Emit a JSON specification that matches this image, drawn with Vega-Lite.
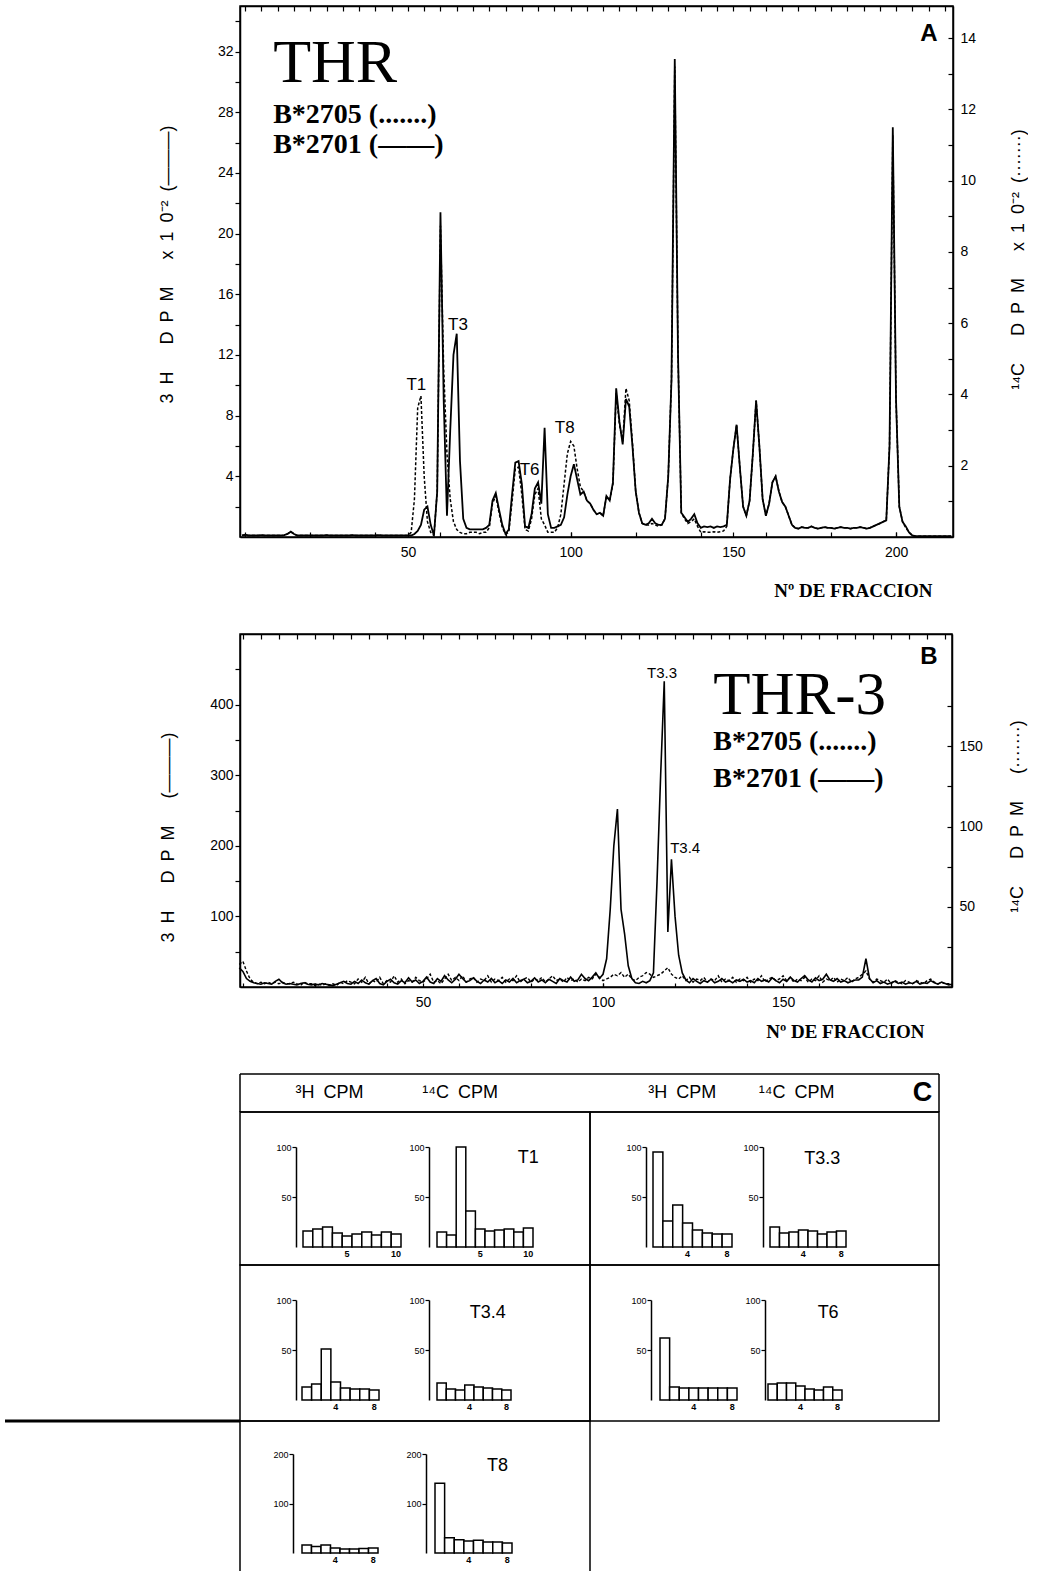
{
"$schema": "https://vega.github.io/schema/vega-lite/v6.json",
"background": "white",
"padding": {"left": 2, "top": 4, "right": 0, "bottom": 0},
"spacing": 31,
"config": {
 "view": {"stroke": "black", "strokeWidth": 1.5},
 "font": "Liberation Sans",
 "axis": {"grid": false, "domainColor": "black", "domainWidth": 1.5, "tickColor": "black", "tickWidth": 1.2, "labelColor": "black", "titleColor": "black", "labelFont": "Liberation Sans", "titleFont": "Liberation Sans", "titleFontWeight": "normal", "labelOverlap": false, "labelFlush": false}
},
"datasets": {
"A": [
{"f":-1,"h":0.1,"c":0.04},{"f":0,"h":0.15,"c":0.04},{"f":1,"h":0.1,"c":0.04},{"f":2,"h":0.1,"c":0.04},{"f":3,"h":0.1,"c":0.04},{"f":4,"h":0.1,"c":0.04},{"f":5,"h":0.12,"c":0.05},{"f":6,"h":0.1,"c":0.04},{"f":7,"h":0.1,"c":0.04},{"f":8,"h":0.1,"c":0.04},{"f":9,"h":0.1,"c":0.04},{"f":10,"h":0.1,"c":0.04},{"f":11,"h":0.1,"c":0.04},{"f":12,"h":0.12,"c":0.05},{"f":13,"h":0.2,"c":0.09},{"f":14,"h":0.35,"c":0.15},{"f":15,"h":0.2,"c":0.09},{"f":16,"h":0.1,"c":0.04},{"f":17,"h":0.1,"c":0.04},{"f":18,"h":0.1,"c":0.04},{"f":19,"h":0.1,"c":0.04},{"f":20,"h":0.1,"c":0.04},{"f":21,"h":0.1,"c":0.04},{"f":22,"h":0.1,"c":0.04},{"f":23,"h":0.1,"c":0.04},{"f":24,"h":0.1,"c":0.04},{"f":25,"h":0.12,"c":0.05},{"f":26,"h":0.1,"c":0.04},{"f":27,"h":0.1,"c":0.04},{"f":28,"h":0.1,"c":0.04},{"f":29,"h":0.1,"c":0.04},{"f":30,"h":0.1,"c":0.04},{"f":31,"h":0.1,"c":0.04},{"f":32,"h":0.1,"c":0.04},{"f":33,"h":0.12,"c":0.05},{"f":34,"h":0.1,"c":0.04},{"f":35,"h":0.1,"c":0.04},{"f":36,"h":0.1,"c":0.04},{"f":37,"h":0.1,"c":0.04},{"f":38,"h":0.1,"c":0.04},{"f":39,"h":0.1,"c":0.04},{"f":40,"h":0.1,"c":0.04},{"f":41,"h":0.12,"c":0.05},{"f":42,"h":0.1,"c":0.04},{"f":43,"h":0.1,"c":0.04},{"f":44,"h":0.1,"c":0.04},{"f":45,"h":0.1,"c":0.04},{"f":46,"h":0.1,"c":0.04},{"f":47,"h":0.1,"c":0.04},{"f":48,"h":0.1,"c":0.04},{"f":49,"h":0.1,"c":0.04},
{"f":50,"h":0.1,"c":0.04},{"f":51,"h":0.1,"c":0.13},{"f":52,"h":0.2,"c":1.06},{"f":53,"h":0.4,"c":3.62},{"f":54,"h":0.8,"c":3.96},{"f":55,"h":1.8,"c":1.7},{"f":56,"h":2.0,"c":0.43},{"f":57,"h":0.8,"c":0.13},{"f":58,"h":0.1,"c":0.04},{"f":59,"h":3,"c":1.28},{"f":60,"h":21.4,"c":8.73},{"f":61,"h":9,"c":4.68},{"f":62,"h":1.4,"c":2.34},{"f":63,"h":7,"c":1.06},{"f":64,"h":12,"c":0.43},{"f":65,"h":13.4,"c":0.21},{"f":66,"h":5,"c":0.13},{"f":67,"h":1.2,"c":0.09},{"f":68,"h":0.6,"c":0.09},{"f":69,"h":0.5,"c":0.13},{"f":70,"h":0.5,"c":0.13},{"f":71,"h":0.5,"c":0.13},{"f":72,"h":0.5,"c":0.09},{"f":73,"h":0.5,"c":0.13},{"f":74,"h":0.6,"c":0.13},{"f":75,"h":0.8,"c":0.26},{"f":76,"h":2.4,"c":0.94},{"f":77,"h":2.9,"c":1.15},{"f":78,"h":1.8,"c":0.68},{"f":79,"h":0.8,"c":0.26},{"f":80,"h":0.2,"c":0.09},{"f":81,"h":0.5,"c":0.13},{"f":82,"h":2.8,"c":0.98},{"f":83,"h":4.9,"c":1.92},{"f":84,"h":5.0,"c":1.96},{"f":85,"h":3.5,"c":1.19},{"f":86,"h":0.7,"c":0.21},{"f":87,"h":0.6,"c":0.17},{"f":88,"h":1.5,"c":0.51},{"f":89,"h":3.2,"c":1.19},{"f":90,"h":3.6,"c":1.36},{"f":91,"h":2.2,"c":0.51},{"f":92,"h":7.2,"c":0.34},{"f":93,"h":1.5,"c":0.13},{"f":94,"h":0.6,"c":0.13},{"f":95,"h":0.6,"c":0.13},{"f":96,"h":0.7,"c":0.26},{"f":97,"h":0.8,"c":0.64},{"f":98,"h":1.3,"c":1.49},{"f":99,"h":2.8,"c":2.34},
{"f":100,"h":4.0,"c":2.68},{"f":101,"h":4.8,"c":2.55},{"f":102,"h":3.8,"c":1.92},{"f":103,"h":2.8,"c":1.4},{"f":104,"h":3.0,"c":1.28},{"f":105,"h":2.4,"c":1.02},{"f":106,"h":2.2,"c":0.94},{"f":107,"h":1.8,"c":0.77},{"f":108,"h":1.5,"c":0.64},{"f":109,"h":1.6,"c":0.68},{"f":110,"h":1.4,"c":0.6},{"f":111,"h":2.7,"c":1.15},{"f":112,"h":2.4,"c":1.02},{"f":113,"h":3.6,"c":1.49},{"f":114,"h":9.8,"c":4.04},{"f":115,"h":7.6,"c":3.15},{"f":116,"h":6.1,"c":2.68},{"f":117,"h":9.1,"c":4.17},{"f":118,"h":8.6,"c":3.83},{"f":119,"h":6.0,"c":2.64},{"f":120,"h":3.0,"c":1.28},{"f":121,"h":1.6,"c":0.68},{"f":122,"h":0.9,"c":0.38},{"f":123,"h":0.8,"c":0.34},{"f":124,"h":0.9,"c":0.34},{"f":125,"h":1.2,"c":0.38},{"f":126,"h":0.9,"c":0.34},{"f":127,"h":0.8,"c":0.3},{"f":128,"h":0.8,"c":0.34},{"f":129,"h":1.2,"c":0.51},{"f":130,"h":4,"c":1.7},{"f":131,"h":10.4,"c":4.43},{"f":132,"h":31.5,"c":13.2},{"f":133,"h":12,"c":5.11},{"f":134,"h":1.6,"c":0.68},{"f":135,"h":1.3,"c":0.51},{"f":136,"h":1.0,"c":0.38},{"f":137,"h":1.2,"c":0.43},{"f":138,"h":1.5,"c":0.51},{"f":139,"h":0.9,"c":0.3},{"f":140,"h":0.6,"c":0.13},{"f":141,"h":0.7,"c":0.15},{"f":142,"h":0.65,"c":0.13},{"f":143,"h":0.7,"c":0.13},{"f":144,"h":0.6,"c":0.15},{"f":145,"h":0.7,"c":0.13},{"f":146,"h":0.65,"c":0.15},{"f":147,"h":0.7,"c":0.17},{"f":148,"h":0.8,"c":0.3},{"f":149,"h":3.8,"c":1.62},
{"f":150,"h":5.8,"c":2.47},{"f":151,"h":7.4,"c":3.15},{"f":152,"h":4.6,"c":1.96},{"f":153,"h":2.0,"c":0.85},{"f":154,"h":1.4,"c":0.6},{"f":155,"h":2.4,"c":1.02},{"f":156,"h":5.5,"c":2.34},{"f":157,"h":9.0,"c":3.83},{"f":158,"h":6.0,"c":2.55},{"f":159,"h":2.5,"c":1.06},{"f":160,"h":1.4,"c":0.6},{"f":161,"h":2.2,"c":0.94},{"f":162,"h":3.6,"c":1.53},{"f":163,"h":4.0,"c":1.7},{"f":164,"h":3.0,"c":1.28},{"f":165,"h":2.3,"c":0.98},{"f":166,"h":2.0,"c":0.85},{"f":167,"h":1.4,"c":0.6},{"f":168,"h":0.8,"c":0.34},{"f":169,"h":0.6,"c":0.26},{"f":170,"h":0.55,"c":0.23},{"f":171,"h":0.65,"c":0.28},{"f":172,"h":0.6,"c":0.26},{"f":173,"h":0.6,"c":0.26},{"f":174,"h":0.7,"c":0.3},{"f":175,"h":0.6,"c":0.26},{"f":176,"h":0.55,"c":0.23},{"f":177,"h":0.6,"c":0.26},{"f":178,"h":0.65,"c":0.28},{"f":179,"h":0.6,"c":0.26},{"f":180,"h":0.6,"c":0.26},{"f":181,"h":0.55,"c":0.23},{"f":182,"h":0.6,"c":0.26},{"f":183,"h":0.65,"c":0.28},{"f":184,"h":0.6,"c":0.26},{"f":185,"h":0.6,"c":0.26},{"f":186,"h":0.55,"c":0.23},{"f":187,"h":0.6,"c":0.26},{"f":188,"h":0.6,"c":0.26},{"f":189,"h":0.65,"c":0.28},{"f":190,"h":0.6,"c":0.26},{"f":191,"h":0.55,"c":0.23},{"f":192,"h":0.6,"c":0.26},{"f":193,"h":0.7,"c":0.3},{"f":194,"h":0.8,"c":0.34},{"f":195,"h":0.9,"c":0.38},{"f":196,"h":1.0,"c":0.43},{"f":197,"h":1.1,"c":0.47},{"f":198,"h":6,"c":2.55},{"f":199,"h":27,"c":11.28},
{"f":200,"h":9,"c":3.83},{"f":201,"h":2,"c":0.85},{"f":202,"h":1.0,"c":0.43},{"f":203,"h":0.7,"c":0.26},{"f":204,"h":0.3,"c":0.13},{"f":205,"h":0.1,"c":0.04},{"f":206,"h":0.05,"c":0.02},{"f":207,"h":0.05,"c":0.02},{"f":208,"h":0.05,"c":0.02},{"f":209,"h":0.05,"c":0.02},{"f":210,"h":0.05,"c":0.02},{"f":211,"h":0.05,"c":0.02},{"f":212,"h":0.05,"c":0.02},{"f":213,"h":0.05,"c":0.02},{"f":214,"h":0.05,"c":0.02},{"f":215,"h":0.05,"c":0.02},{"f":216,"h":0.05,"c":0.02},{"f":217,"h":0.05,"c":0.02}
],
"B": [
{"f":-1,"h":27,"c":14},{"f":0,"h":22,"c":16},{"f":1,"h":12,"c":10},{"f":2,"h":8,"c":5},{"f":3,"h":6,"c":3},{"f":4,"h":5,"c":2},{"f":5,"h":4,"c":3},{"f":6,"h":6,"c":2},{"f":7,"h":5,"c":3},{"f":8,"h":4,"c":2},{"f":9,"h":8,"c":3},{"f":10,"h":11,"c":2},{"f":11,"h":6,"c":3},{"f":12,"h":4,"c":2},{"f":13,"h":5,"c":2},{"f":14,"h":4,"c":3},{"f":15,"h":3,"c":2},{"f":16,"h":5,"c":1},{"f":17,"h":6,"c":3},{"f":18,"h":4,"c":2},{"f":19,"h":3,"c":2},{"f":20,"h":4,"c":1},{"f":21,"h":3,"c":2},{"f":22,"h":5,"c":1},{"f":23,"h":4,"c":2},{"f":24,"h":3,"c":1},{"f":25,"h":2,"c":2},{"f":26,"h":4,"c":1},{"f":27,"h":6,"c":3},{"f":28,"h":8,"c":2},{"f":29,"h":5,"c":4},{"f":30,"h":4,"c":3},{"f":31,"h":8,"c":2},{"f":32,"h":5,"c":5},{"f":33,"h":10,"c":3},{"f":34,"h":6,"c":6},{"f":35,"h":4,"c":2},{"f":36,"h":9,"c":4},{"f":37,"h":12,"c":3},{"f":38,"h":5,"c":6},{"f":39,"h":3,"c":2},{"f":40,"h":8,"c":4},{"f":41,"h":11,"c":3},{"f":42,"h":6,"c":7},{"f":43,"h":4,"c":3},{"f":44,"h":9,"c":5},{"f":45,"h":6,"c":2},{"f":46,"h":13,"c":4},{"f":47,"h":7,"c":3},{"f":48,"h":10,"c":6},{"f":49,"h":5,"c":4},
{"f":50,"h":8,"c":3},{"f":51,"h":14,"c":5},{"f":52,"h":7,"c":8},{"f":53,"h":5,"c":3},{"f":54,"h":12,"c":4},{"f":55,"h":8,"c":2},{"f":56,"h":16,"c":5},{"f":57,"h":10,"c":8},{"f":58,"h":6,"c":4},{"f":59,"h":11,"c":6},{"f":60,"h":18,"c":4},{"f":61,"h":12,"c":7},{"f":62,"h":7,"c":3},{"f":63,"h":9,"c":5},{"f":64,"h":13,"c":6},{"f":65,"h":8,"c":3},{"f":66,"h":5,"c":5},{"f":67,"h":10,"c":4},{"f":68,"h":7,"c":7},{"f":69,"h":12,"c":3},{"f":70,"h":6,"c":5},{"f":71,"h":9,"c":4},{"f":72,"h":5,"c":6},{"f":73,"h":10,"c":3},{"f":74,"h":7,"c":5},{"f":75,"h":12,"c":4},{"f":76,"h":6,"c":7},{"f":77,"h":9,"c":3},{"f":78,"h":11,"c":5},{"f":79,"h":6,"c":6},{"f":80,"h":8,"c":3},{"f":81,"h":13,"c":5},{"f":82,"h":7,"c":4},{"f":83,"h":10,"c":6},{"f":84,"h":6,"c":3},{"f":85,"h":11,"c":5},{"f":86,"h":8,"c":7},{"f":87,"h":5,"c":4},{"f":88,"h":12,"c":5},{"f":89,"h":9,"c":3},{"f":90,"h":7,"c":6},{"f":91,"h":14,"c":4},{"f":92,"h":8,"c":5},{"f":93,"h":10,"c":3},{"f":94,"h":18,"c":5},{"f":95,"h":12,"c":4},{"f":96,"h":9,"c":6},{"f":97,"h":14,"c":5},{"f":98,"h":20,"c":8},{"f":99,"h":12,"c":6},
{"f":100,"h":18,"c":4},{"f":101,"h":40,"c":5},{"f":102,"h":110,"c":6},{"f":103,"h":200,"c":8},{"f":104,"h":252,"c":7},{"f":105,"h":110,"c":9},{"f":106,"h":75,"c":6},{"f":107,"h":30,"c":8},{"f":108,"h":12,"c":5},{"f":109,"h":6,"c":4},{"f":110,"h":5,"c":6},{"f":111,"h":8,"c":7},{"f":112,"h":6,"c":9},{"f":113,"h":9,"c":8},{"f":114,"h":20,"c":6},{"f":115,"h":150,"c":7},{"f":116,"h":300,"c":8},{"f":117,"h":433,"c":10},{"f":118,"h":78,"c":12},{"f":119,"h":181,"c":8},{"f":120,"h":100,"c":6},{"f":121,"h":45,"c":5},{"f":122,"h":20,"c":7},{"f":123,"h":10,"c":4},{"f":124,"h":6,"c":6},{"f":125,"h":12,"c":3},{"f":126,"h":8,"c":5},{"f":127,"h":5,"c":4},{"f":128,"h":9,"c":6},{"f":129,"h":7,"c":3},{"f":130,"h":11,"c":5},{"f":131,"h":6,"c":4},{"f":132,"h":8,"c":7},{"f":133,"h":12,"c":3},{"f":134,"h":7,"c":5},{"f":135,"h":9,"c":4},{"f":136,"h":6,"c":6},{"f":137,"h":10,"c":3},{"f":138,"h":8,"c":5},{"f":139,"h":11,"c":4},{"f":140,"h":7,"c":6},{"f":141,"h":9,"c":3},{"f":142,"h":6,"c":5},{"f":143,"h":12,"c":4},{"f":144,"h":8,"c":7},{"f":145,"h":10,"c":3},{"f":146,"h":7,"c":5},{"f":147,"h":13,"c":6},{"f":148,"h":9,"c":4},{"f":149,"h":6,"c":5},
{"f":150,"h":11,"c":7},{"f":151,"h":8,"c":4},{"f":152,"h":14,"c":6},{"f":153,"h":9,"c":3},{"f":154,"h":7,"c":5},{"f":155,"h":12,"c":4},{"f":156,"h":16,"c":6},{"f":157,"h":10,"c":3},{"f":158,"h":7,"c":5},{"f":159,"h":13,"c":4},{"f":160,"h":9,"c":7},{"f":161,"h":11,"c":3},{"f":162,"h":18,"c":5},{"f":163,"h":10,"c":4},{"f":164,"h":8,"c":6},{"f":165,"h":12,"c":3},{"f":166,"h":7,"c":5},{"f":167,"h":9,"c":4},{"f":168,"h":6,"c":6},{"f":169,"h":8,"c":3},{"f":170,"h":10,"c":5},{"f":171,"h":10,"c":6},{"f":172,"h":14,"c":8},{"f":173,"h":40,"c":10},{"f":174,"h":12,"c":5},{"f":175,"h":6,"c":3},{"f":176,"h":9,"c":5},{"f":177,"h":5,"c":4},{"f":178,"h":7,"c":3},{"f":179,"h":4,"c":5},{"f":180,"h":6,"c":2},{"f":181,"h":8,"c":4},{"f":182,"h":5,"c":3},{"f":183,"h":7,"c":2},{"f":184,"h":4,"c":4},{"f":185,"h":6,"c":3},{"f":186,"h":5,"c":2},{"f":187,"h":8,"c":4},{"f":188,"h":4,"c":3},{"f":189,"h":6,"c":2},{"f":190,"h":5,"c":4},{"f":191,"h":9,"c":5},{"f":192,"h":6,"c":3},{"f":193,"h":4,"c":2},{"f":194,"h":7,"c":3},{"f":195,"h":5,"c":2},{"f":196,"h":3,"c":2},{"f":197,"h":4,"c":1}
],
"C": [
{"pep":"T1","iso":"3H","n":1,"cpm":16},{"pep":"T1","iso":"3H","n":2,"cpm":18},{"pep":"T1","iso":"3H","n":3,"cpm":20},{"pep":"T1","iso":"3H","n":4,"cpm":14},{"pep":"T1","iso":"3H","n":5,"cpm":11},{"pep":"T1","iso":"3H","n":6,"cpm":13},{"pep":"T1","iso":"3H","n":7,"cpm":15},{"pep":"T1","iso":"3H","n":8,"cpm":12},{"pep":"T1","iso":"3H","n":9,"cpm":15},{"pep":"T1","iso":"3H","n":10,"cpm":13},
{"pep":"T1","iso":"14C","n":1,"cpm":15},{"pep":"T1","iso":"14C","n":2,"cpm":12},{"pep":"T1","iso":"14C","n":3,"cpm":100},{"pep":"T1","iso":"14C","n":4,"cpm":36},{"pep":"T1","iso":"14C","n":5,"cpm":18},{"pep":"T1","iso":"14C","n":6,"cpm":16},{"pep":"T1","iso":"14C","n":7,"cpm":17},{"pep":"T1","iso":"14C","n":8,"cpm":18},{"pep":"T1","iso":"14C","n":9,"cpm":15},{"pep":"T1","iso":"14C","n":10,"cpm":19},
{"pep":"T3.3","iso":"3H","n":1,"cpm":95},{"pep":"T3.3","iso":"3H","n":2,"cpm":26},{"pep":"T3.3","iso":"3H","n":3,"cpm":42},{"pep":"T3.3","iso":"3H","n":4,"cpm":24},{"pep":"T3.3","iso":"3H","n":5,"cpm":17},{"pep":"T3.3","iso":"3H","n":6,"cpm":14},{"pep":"T3.3","iso":"3H","n":7,"cpm":13},{"pep":"T3.3","iso":"3H","n":8,"cpm":13},
{"pep":"T3.3","iso":"14C","n":1,"cpm":20},{"pep":"T3.3","iso":"14C","n":2,"cpm":14},{"pep":"T3.3","iso":"14C","n":3,"cpm":15},{"pep":"T3.3","iso":"14C","n":4,"cpm":17},{"pep":"T3.3","iso":"14C","n":5,"cpm":16},{"pep":"T3.3","iso":"14C","n":6,"cpm":13},{"pep":"T3.3","iso":"14C","n":7,"cpm":15},{"pep":"T3.3","iso":"14C","n":8,"cpm":16},
{"pep":"T3.4","iso":"3H","n":1,"cpm":13},{"pep":"T3.4","iso":"3H","n":2,"cpm":16},{"pep":"T3.4","iso":"3H","n":3,"cpm":51},{"pep":"T3.4","iso":"3H","n":4,"cpm":18},{"pep":"T3.4","iso":"3H","n":5,"cpm":12},{"pep":"T3.4","iso":"3H","n":6,"cpm":11},{"pep":"T3.4","iso":"3H","n":7,"cpm":11},{"pep":"T3.4","iso":"3H","n":8,"cpm":10},
{"pep":"T3.4","iso":"14C","n":1,"cpm":17},{"pep":"T3.4","iso":"14C","n":2,"cpm":11},{"pep":"T3.4","iso":"14C","n":3,"cpm":10},{"pep":"T3.4","iso":"14C","n":4,"cpm":15},{"pep":"T3.4","iso":"14C","n":5,"cpm":13},{"pep":"T3.4","iso":"14C","n":6,"cpm":12},{"pep":"T3.4","iso":"14C","n":7,"cpm":11},{"pep":"T3.4","iso":"14C","n":8,"cpm":10},
{"pep":"T6","iso":"3H","n":1,"cpm":62},{"pep":"T6","iso":"3H","n":2,"cpm":13},{"pep":"T6","iso":"3H","n":3,"cpm":12},{"pep":"T6","iso":"3H","n":4,"cpm":12},{"pep":"T6","iso":"3H","n":5,"cpm":12},{"pep":"T6","iso":"3H","n":6,"cpm":12},{"pep":"T6","iso":"3H","n":7,"cpm":12},{"pep":"T6","iso":"3H","n":8,"cpm":12},
{"pep":"T6","iso":"14C","n":1,"cpm":16},{"pep":"T6","iso":"14C","n":2,"cpm":17},{"pep":"T6","iso":"14C","n":3,"cpm":17},{"pep":"T6","iso":"14C","n":4,"cpm":14},{"pep":"T6","iso":"14C","n":5,"cpm":11},{"pep":"T6","iso":"14C","n":6,"cpm":10},{"pep":"T6","iso":"14C","n":7,"cpm":13},{"pep":"T6","iso":"14C","n":8,"cpm":10},
{"pep":"T8","iso":"3H","n":1,"cpm":16},{"pep":"T8","iso":"3H","n":2,"cpm":13},{"pep":"T8","iso":"3H","n":3,"cpm":16},{"pep":"T8","iso":"3H","n":4,"cpm":10},{"pep":"T8","iso":"3H","n":5,"cpm":8},{"pep":"T8","iso":"3H","n":6,"cpm":8},{"pep":"T8","iso":"3H","n":7,"cpm":9},{"pep":"T8","iso":"3H","n":8,"cpm":10},
{"pep":"T8","iso":"14C","n":1,"cpm":141},{"pep":"T8","iso":"14C","n":2,"cpm":31},{"pep":"T8","iso":"14C","n":3,"cpm":27},{"pep":"T8","iso":"14C","n":4,"cpm":24},{"pep":"T8","iso":"14C","n":5,"cpm":26},{"pep":"T8","iso":"14C","n":6,"cpm":22},{"pep":"T8","iso":"14C","n":7,"cpm":22},{"pep":"T8","iso":"14C","n":8,"cpm":20}
]
},
"vconcat": [
{
 "width": 713, "height": 531,
 "data": {"name": "A"},
 "resolve": {"scale": {"y": "independent"}, "axis": {"x": "independent", "y": "independent"}},
 "layer": [
  {"mark": {"type": "line", "color": "black", "strokeWidth": 1.8},
   "encoding": {
    "x": {"field": "f", "type": "quantitative", "scale": {"domain": [-1.6, 217.5], "nice": false, "zero": false},
      "axis": {"orient": "bottom", "values": [50, 100, 150, 200], "tickSize": -5, "labelPadding": 13, "labelFontSize": 14, "title": "Nº DE FRACCION", "titleFont": "Liberation Serif", "titleFontWeight": "bold", "titleFontSize": 19, "titleX": 692, "titleY": 53, "titleAlign": "right", "titleBaseline": "middle"}},
    "y": {"field": "h", "type": "quantitative", "scale": {"domain": [0, 35], "nice": false, "zero": false},
      "axis": {"orient": "left", "values": [4, 8, 12, 16, 20, 24, 28, 32], "tickSize": 5, "labelPadding": 2, "labelFontSize": 14, "title": "3\u2002H\u2003\u2002D\u2002P\u2002M\u2003\u2002x\u20021\u20020\u207b\u00b2\u2002(———)", "titleFontSize": 18, "titleX": -73, "titleY": 258, "titleAngle": -90, "titleAlign": "center", "titleBaseline": "middle"}}
   }},
  {"mark": {"type": "line", "color": "black", "strokeWidth": 1.5, "strokeDash": [3, 2]},
   "encoding": {
    "x": {"field": "f", "type": "quantitative", "scale": {"domain": [-1.6, 217.5], "nice": false, "zero": false},
      "axis": {"orient": "top", "values": [0,5,10,15,20,25,30,35,40,45,50,55,60,65,70,75,80,85,90,95,100,105,110,115,120,125,130,135,140,145,150,155,160,165,170,175,180,185,190,195,200,205,210,215], "labels": false, "tickSize": -5, "title": null}},
    "y": {"field": "c", "type": "quantitative", "scale": {"domain": [0, 14.9], "nice": false, "zero": false},
      "axis": {"orient": "right", "values": [2, 4, 6, 8, 10, 12, 14], "tickSize": -5, "labelPadding": 12, "labelFontSize": 14, "title": "\u00b9\u2074C\u2003\u2002D\u2002P\u2002M\u2003\u2002x\u20021\u20020\u207b\u00b2\u2002(·······)", "titleFontSize": 18, "titleX": 65, "titleY": 253, "titleAngle": -90, "titleAlign": "center", "titleBaseline": "middle"}}
   }},
  {"layer": [
   {"data": {"values": [{}]}, "mark": {"type": "text", "fontSize": 17, "font": "Liberation Sans"},
    "encoding": {"x": {"datum": 52.6, "type": "quantitative", "scale": {"domain": [-1.6, 217.5], "nice": false, "zero": false}, "axis": {"orient": "bottom", "values": [0,5,10,15,20,25,30,35,40,45,50,55,60,65,70,75,80,85,90,95,100,105,110,115,120,125,130,135,140,145,150,155,160,165,170,175,180,185,190,195,200,205,210,215], "labels": false, "domain": false, "tickSize": -5, "title": null}},
     "y": {"datum": 10.0, "type": "quantitative", "scale": {"domain": [0, 35], "nice": false, "zero": false}, "axis": {"orient": "left", "values": [2, 6, 10, 14, 18, 22, 26, 30, 34], "labels": false, "domain": false, "tickSize": 5, "title": null}}, "text": {"value": "T1"}}},
   {"data": {"values": [{}]}, "mark": {"type": "text", "fontSize": 17, "font": "Liberation Sans"},
    "encoding": {"x": {"datum": 65.4, "type": "quantitative", "scale": {"domain": [-1.6, 217.5], "nice": false, "zero": false}}, "y": {"datum": 14.0, "type": "quantitative", "scale": {"domain": [0, 35], "nice": false, "zero": false}}, "text": {"value": "T3"}}},
   {"data": {"values": [{}]}, "mark": {"type": "text", "fontSize": 17, "font": "Liberation Sans"},
    "encoding": {"x": {"datum": 87.4, "type": "quantitative", "scale": {"domain": [-1.6, 217.5], "nice": false, "zero": false}}, "y": {"datum": 4.43, "type": "quantitative", "scale": {"domain": [0, 35], "nice": false, "zero": false}}, "text": {"value": "T6"}}},
   {"data": {"values": [{}]}, "mark": {"type": "text", "fontSize": 17, "font": "Liberation Sans"},
    "encoding": {"x": {"datum": 98.2, "type": "quantitative", "scale": {"domain": [-1.6, 217.5], "nice": false, "zero": false}}, "y": {"datum": 7.2, "type": "quantitative", "scale": {"domain": [0, 35], "nice": false, "zero": false}}, "text": {"value": "T8"}}},
   {"data": {"values": [{}]}, "mark": {"type": "text", "fontSize": 62, "font": "Liberation Serif", "align": "left", "baseline": "alphabetic"},
    "encoding": {"x": {"datum": 8.6, "type": "quantitative", "scale": {"domain": [-1.6, 217.5], "nice": false, "zero": false}}, "y": {"datum": 30.0, "type": "quantitative", "scale": {"domain": [0, 35], "nice": false, "zero": false}}, "text": {"value": "THR"}}},
   {"data": {"values": [{}]}, "mark": {"type": "text", "fontSize": 28, "font": "Liberation Serif", "fontWeight": "bold", "align": "left", "baseline": "alphabetic"},
    "encoding": {"x": {"datum": 8.6, "type": "quantitative", "scale": {"domain": [-1.6, 217.5], "nice": false, "zero": false}}, "y": {"datum": 27.3, "type": "quantitative", "scale": {"domain": [0, 35], "nice": false, "zero": false}}, "text": {"value": "B*2705 (.......)"}}},
   {"data": {"values": [{}]}, "mark": {"type": "text", "fontSize": 28, "font": "Liberation Serif", "fontWeight": "bold", "align": "left", "baseline": "alphabetic"},
    "encoding": {"x": {"datum": 8.6, "type": "quantitative", "scale": {"domain": [-1.6, 217.5], "nice": false, "zero": false}}, "y": {"datum": 25.3, "type": "quantitative", "scale": {"domain": [0, 35], "nice": false, "zero": false}}, "text": {"value": "B*2701 (——)"}}}
  ]},
  {"data": {"values": [{}]}, "mark": {"type": "text", "fontSize": 24, "font": "Liberation Sans", "fontWeight": "bold", "align": "right", "baseline": "alphabetic"},
   "encoding": {"x": {"datum": 212.8, "type": "quantitative", "scale": {"domain": [-1.6, 217.5], "nice": false, "zero": false}, "axis": null},
    "y": {"datum": 13.92, "type": "quantitative", "scale": {"domain": [0, 14.9], "nice": false, "zero": false}, "axis": {"orient": "right", "values": [1, 3, 5, 7, 9, 11, 13], "labels": false, "domain": false, "tickSize": -5, "title": null}}, "text": {"value": "A"}}}
 ]
},
{
 "width": 712, "height": 353,
 "data": {"name": "B"},
 "resolve": {"scale": {"y": "independent"}, "axis": {"x": "independent", "y": "independent"}},
 "layer": [
  {"mark": {"type": "line", "color": "black", "strokeWidth": 1.6},
   "encoding": {
    "x": {"field": "f", "type": "quantitative", "scale": {"domain": [-0.8, 196.9], "nice": false, "zero": false},
      "axis": {"orient": "bottom", "values": [50, 100, 150], "tickSize": -4, "labelPadding": 12, "labelFontSize": 14, "title": "Nº DE FRACCION", "titleFont": "Liberation Serif", "titleFontWeight": "bold", "titleFontSize": 19, "titleX": 684, "titleY": 44, "titleAlign": "right", "titleBaseline": "middle"}},
    "y": {"field": "h", "type": "quantitative", "scale": {"domain": [0, 500], "nice": false, "zero": false},
      "axis": {"orient": "left", "values": [100, 200, 300, 400], "tickSize": 5, "labelPadding": 2, "labelFontSize": 14, "title": "3\u2002H\u2003\u2002D\u2002P\u2002M\u2003\u2002(———)", "titleFontSize": 18, "titleX": -72, "titleY": 203, "titleAngle": -90, "titleAlign": "center", "titleBaseline": "middle"}}
   }},
  {"mark": {"type": "line", "color": "black", "strokeWidth": 1.4, "strokeDash": [3, 2]},
   "encoding": {
    "x": {"field": "f", "type": "quantitative", "scale": {"domain": [-0.8, 196.9], "nice": false, "zero": false},
      "axis": {"orient": "top", "values": [0,5,10,15,20,25,30,35,40,45,50,55,60,65,70,75,80,85,90,95,100,105,110,115,120,125,130,135,140,145,150,155,160,165,170,175,180,185,190,195], "labels": false, "tickSize": -5, "title": null}},
    "y": {"field": "c", "type": "quantitative", "scale": {"domain": [0, 220], "nice": false, "zero": false},
      "axis": {"orient": "right", "values": [50, 100, 150], "tickSize": -5, "labelPadding": 12, "labelFontSize": 14, "title": "\u00b9\u2074C\u2003\u2002D\u2002P\u2002M\u2003\u2002(·······)", "titleFontSize": 18, "titleX": 65, "titleY": 182, "titleAngle": -90, "titleAlign": "center", "titleBaseline": "middle"}}
   }},
  {"layer": [
   {"data": {"values": [{}]}, "mark": {"type": "text", "fontSize": 61, "font": "Liberation Serif", "align": "left", "baseline": "alphabetic"},
    "encoding": {"x": {"datum": 130.6, "type": "quantitative", "scale": {"domain": [-0.8, 196.9], "nice": false, "zero": false}, "axis": {"orient": "bottom", "values": [0,5,10,15,20,25,30,35,40,45,50,55,60,65,70,75,80,85,90,95,100,105,110,115,120,125,130,135,140,145,150,155,160,165,170,175,180,185,190,195], "labels": false, "domain": false, "tickSize": -4, "title": null}},
     "y": {"datum": 386.7, "type": "quantitative", "scale": {"domain": [0, 500], "nice": false, "zero": false}, "axis": {"orient": "left", "values": [50, 150, 250, 350, 450], "labels": false, "domain": false, "tickSize": 5, "title": null}}, "text": {"value": "THR-3"}}},
   {"data": {"values": [{}]}, "mark": {"type": "text", "fontSize": 28, "font": "Liberation Serif", "fontWeight": "bold", "align": "left", "baseline": "alphabetic"},
    "encoding": {"x": {"datum": 130.6, "type": "quantitative", "scale": {"domain": [-0.8, 196.9], "nice": false, "zero": false}}, "y": {"datum": 336, "type": "quantitative", "scale": {"domain": [0, 500], "nice": false, "zero": false}}, "text": {"value": "B*2705 (.......)"}}},
   {"data": {"values": [{}]}, "mark": {"type": "text", "fontSize": 28, "font": "Liberation Serif", "fontWeight": "bold", "align": "left", "baseline": "alphabetic"},
    "encoding": {"x": {"datum": 130.6, "type": "quantitative", "scale": {"domain": [-0.8, 196.9], "nice": false, "zero": false}}, "y": {"datum": 283, "type": "quantitative", "scale": {"domain": [0, 500], "nice": false, "zero": false}}, "text": {"value": "B*2701 (——)"}}},
   {"data": {"values": [{}]}, "mark": {"type": "text", "fontSize": 15, "font": "Liberation Sans"},
    "encoding": {"x": {"datum": 116.4, "type": "quantitative", "scale": {"domain": [-0.8, 196.9], "nice": false, "zero": false}}, "y": {"datum": 445, "type": "quantitative", "scale": {"domain": [0, 500], "nice": false, "zero": false}}, "text": {"value": "T3.3"}}},
   {"data": {"values": [{}]}, "mark": {"type": "text", "fontSize": 15, "font": "Liberation Sans"},
    "encoding": {"x": {"datum": 122.8, "type": "quantitative", "scale": {"domain": [-0.8, 196.9], "nice": false, "zero": false}}, "y": {"datum": 197, "type": "quantitative", "scale": {"domain": [0, 500], "nice": false, "zero": false}}, "text": {"value": "T3.4"}}}
  ]},
  {"data": {"values": [{}]}, "mark": {"type": "text", "fontSize": 24, "font": "Liberation Sans", "fontWeight": "bold", "align": "right", "baseline": "alphabetic"},
   "encoding": {"x": {"datum": 192.9, "type": "quantitative", "scale": {"domain": [-0.8, 196.9], "nice": false, "zero": false}, "axis": null},
    "y": {"datum": 201, "type": "quantitative", "scale": {"domain": [0, 220], "nice": false, "zero": false}, "axis": {"orient": "right", "values": [25, 75, 125, 175], "labels": false, "domain": false, "tickSize": -5, "title": null}}, "text": {"value": "B"}}}
 ]
},
{
 "columns": 2,
 "spacing": 0,
 "bounds": "flush",
 "concat": [
  {"width": 350, "height": 38, "view": {"stroke": null}, "data": {"values": [{}]},
   "layer": [
    {"mark": {"type": "rule", "color": "black", "strokeWidth": 1.5}, "encoding": {"y": {"datum": 1, "type": "quantitative", "scale": {"domain": [0, 1]}, "axis": null}}},
    {"mark": {"type": "rule", "color": "black", "strokeWidth": 1.5}, "encoding": {"y": {"datum": 0, "type": "quantitative", "scale": {"domain": [0, 1]}, "axis": null}}},
    {"mark": {"type": "rule", "color": "black", "strokeWidth": 1.5}, "encoding": {"x": {"datum": 0, "type": "quantitative", "scale": {"domain": [0, 100]}, "axis": null}}},
    {"mark": {"type": "text", "fontSize": 18, "font": "Liberation Sans"}, "encoding": {"x": {"datum": 25.6, "type": "quantitative", "scale": {"domain": [0, 100]}, "axis": null}, "y": {"datum": 0.5, "type": "quantitative", "scale": {"domain": [0, 1]}, "axis": null}, "text": {"value": "³H\u2002CPM"}}},
    {"mark": {"type": "text", "fontSize": 18, "font": "Liberation Sans"}, "encoding": {"x": {"datum": 62.9, "type": "quantitative", "scale": {"domain": [0, 100]}, "axis": null}, "y": {"datum": 0.5, "type": "quantitative", "scale": {"domain": [0, 1]}, "axis": null}, "text": {"value": "¹⁴C\u2002CPM"}}}
   ]},
  {"width": 349, "height": 38, "view": {"stroke": null}, "data": {"values": [{}]},
   "layer": [
    {"mark": {"type": "rule", "color": "black", "strokeWidth": 1.5}, "encoding": {"y": {"datum": 1, "type": "quantitative", "scale": {"domain": [0, 1]}, "axis": null}}},
    {"mark": {"type": "rule", "color": "black", "strokeWidth": 1.5}, "encoding": {"y": {"datum": 0, "type": "quantitative", "scale": {"domain": [0, 1]}, "axis": null}}},
    {"mark": {"type": "rule", "color": "black", "strokeWidth": 1.5}, "encoding": {"x": {"datum": 100, "type": "quantitative", "scale": {"domain": [0, 100]}, "axis": null}}},
    {"mark": {"type": "text", "fontSize": 18, "font": "Liberation Sans"}, "encoding": {"x": {"datum": 26.4, "type": "quantitative", "scale": {"domain": [0, 100]}, "axis": null}, "y": {"datum": 0.5, "type": "quantitative", "scale": {"domain": [0, 1]}, "axis": null}, "text": {"value": "³H\u2002CPM"}}},
    {"mark": {"type": "text", "fontSize": 18, "font": "Liberation Sans"}, "encoding": {"x": {"datum": 59.2, "type": "quantitative", "scale": {"domain": [0, 100]}, "axis": null}, "y": {"datum": 0.5, "type": "quantitative", "scale": {"domain": [0, 1]}, "axis": null}, "text": {"value": "¹⁴C\u2002CPM"}}},
    {"mark": {"type": "text", "fontSize": 27, "font": "Liberation Sans", "fontWeight": "bold"}, "encoding": {"x": {"datum": 95.3, "type": "quantitative", "scale": {"domain": [0, 100]}, "axis": null}, "y": {"datum": 0.5, "type": "quantitative", "scale": {"domain": [0, 1]}, "axis": null}, "text": {"value": "C"}}}
   ]},
  {"width": 350, "height": 153,
   "resolve": {"scale": {"x": "independent", "y": "independent"}, "axis": {"x": "independent", "y": "independent"}},
   "layer": [
    {"data": {"name": "C"}, "transform": [{"filter": "datum.pep === 'T1' && datum.iso === '3H'"}],
     "mark": {"type": "bar", "fill": "white", "stroke": "black", "strokeWidth": 1.5},
     "encoding": {
      "x": {"field": "n", "type": "ordinal", "scale": {"range": [63, 161], "paddingInner": 0, "paddingOuter": 0}, "axis": {"orient": "bottom", "offset": -18, "values": [5, 10], "domain": false, "ticks": false, "labelAngle": 0, "labelFontSize": 9, "labelFontWeight": "bold", "labelPadding": 2, "title": null}},
      "y": {"field": "cpm", "type": "quantitative", "scale": {"domain": [0, 100], "range": [135, 35], "nice": false}, "axis": {"orient": "left", "offset": -56, "values": [50, 100], "tickSize": 4, "labelFontSize": 9, "labelPadding": 1, "title": null}}}},
    {"layer": [
     {"data": {"name": "C"}, "transform": [{"filter": "datum.pep === 'T1' && datum.iso === '14C'"}],
      "mark": {"type": "bar", "fill": "white", "stroke": "black", "strokeWidth": 1.5},
      "encoding": {
       "x": {"field": "n", "type": "ordinal", "scale": {"range": [197, 293], "paddingInner": 0, "paddingOuter": 0}, "axis": {"orient": "bottom", "offset": -18, "values": [5, 10], "domain": false, "ticks": false, "labelAngle": 0, "labelFontSize": 9, "labelFontWeight": "bold", "labelPadding": 2, "title": null}},
       "y": {"field": "cpm", "type": "quantitative", "scale": {"domain": [0, 100], "range": [135, 35], "nice": false}, "axis": {"orient": "left", "offset": -189, "values": [50, 100], "tickSize": 4, "labelFontSize": 9, "labelPadding": 1, "title": null}}}},
     {"data": {"name": "C"}, "transform": [{"filter": "datum.pep === 'T1' && datum.iso === '14C' && datum.n === 10"}],
      "mark": {"type": "text", "fontSize": 18, "font": "Liberation Sans"},
      "encoding": {"x": {"field": "n", "type": "ordinal"}, "y": {"datum": 89, "type": "quantitative", "scale": {"domain": [0, 100], "range": [135, 35], "nice": false}}, "text": {"value": "T1"}}}
    ]}
   ]},
  {"width": 349, "height": 153,
   "resolve": {"scale": {"x": "independent", "y": "independent"}, "axis": {"x": "independent", "y": "independent"}},
   "layer": [
    {"data": {"name": "C"}, "transform": [{"filter": "datum.pep === 'T3.3' && datum.iso === '3H'"}],
     "mark": {"type": "bar", "fill": "white", "stroke": "black", "strokeWidth": 1.5},
     "encoding": {
      "x": {"field": "n", "type": "ordinal", "scale": {"range": [63, 142], "paddingInner": 0, "paddingOuter": 0}, "axis": {"orient": "bottom", "offset": -18, "values": [4, 8], "domain": false, "ticks": false, "labelAngle": 0, "labelFontSize": 9, "labelFontWeight": "bold", "labelPadding": 2, "title": null}},
      "y": {"field": "cpm", "type": "quantitative", "scale": {"domain": [0, 100], "range": [135, 35], "nice": false}, "axis": {"orient": "left", "offset": -56, "values": [50, 100], "tickSize": 4, "labelFontSize": 9, "labelPadding": 1, "title": null}}}},
    {"layer": [
     {"data": {"name": "C"}, "transform": [{"filter": "datum.pep === 'T3.3' && datum.iso === '14C'"}],
      "mark": {"type": "bar", "fill": "white", "stroke": "black", "strokeWidth": 1.5},
      "encoding": {
       "x": {"field": "n", "type": "ordinal", "scale": {"range": [180, 256], "paddingInner": 0, "paddingOuter": 0}, "axis": {"orient": "bottom", "offset": -18, "values": [4, 8], "domain": false, "ticks": false, "labelAngle": 0, "labelFontSize": 9, "labelFontWeight": "bold", "labelPadding": 2, "title": null}},
       "y": {"field": "cpm", "type": "quantitative", "scale": {"domain": [0, 100], "range": [135, 35], "nice": false}, "axis": {"orient": "left", "offset": -173, "values": [50, 100], "tickSize": 4, "labelFontSize": 9, "labelPadding": 1, "title": null}}}},
     {"data": {"name": "C"}, "transform": [{"filter": "datum.pep === 'T3.3' && datum.iso === '14C' && datum.n === 6"}],
      "mark": {"type": "text", "fontSize": 18, "font": "Liberation Sans"},
      "encoding": {"x": {"field": "n", "type": "ordinal"}, "y": {"datum": 88, "type": "quantitative", "scale": {"domain": [0, 100], "range": [135, 35], "nice": false}}, "text": {"value": "T3.3"}}}
    ]}
   ]},
  {"width": 350, "height": 156,
   "resolve": {"scale": {"x": "independent", "y": "independent"}, "axis": {"x": "independent", "y": "independent"}},
   "layer": [
    {"data": {"name": "C"}, "transform": [{"filter": "datum.pep === 'T3.4' && datum.iso === '3H'"}],
     "mark": {"type": "bar", "fill": "white", "stroke": "black", "strokeWidth": 1.5},
     "encoding": {
      "x": {"field": "n", "type": "ordinal", "scale": {"range": [62, 139], "paddingInner": 0, "paddingOuter": 0}, "axis": {"orient": "bottom", "offset": -21, "values": [4, 8], "domain": false, "ticks": false, "labelAngle": 0, "labelFontSize": 9, "labelFontWeight": "bold", "labelPadding": 2, "title": null}},
      "y": {"field": "cpm", "type": "quantitative", "scale": {"domain": [0, 100], "range": [135, 35], "nice": false}, "axis": {"orient": "left", "offset": -56, "values": [50, 100], "tickSize": 4, "labelFontSize": 9, "labelPadding": 1, "title": null}}}},
    {"layer": [
     {"data": {"name": "C"}, "transform": [{"filter": "datum.pep === 'T3.4' && datum.iso === '14C'"}],
      "mark": {"type": "bar", "fill": "white", "stroke": "black", "strokeWidth": 1.5},
      "encoding": {
       "x": {"field": "n", "type": "ordinal", "scale": {"range": [197, 271], "paddingInner": 0, "paddingOuter": 0}, "axis": {"orient": "bottom", "offset": -21, "values": [4, 8], "domain": false, "ticks": false, "labelAngle": 0, "labelFontSize": 9, "labelFontWeight": "bold", "labelPadding": 2, "title": null}},
       "y": {"field": "cpm", "type": "quantitative", "scale": {"domain": [0, 100], "range": [135, 35], "nice": false}, "axis": {"orient": "left", "offset": -189, "values": [50, 100], "tickSize": 4, "labelFontSize": 9, "labelPadding": 1, "title": null}}}},
     {"data": {"name": "C"}, "transform": [{"filter": "datum.pep === 'T3.4' && datum.iso === '14C' && datum.n === 6"}],
      "mark": {"type": "text", "fontSize": 18, "font": "Liberation Sans"},
      "encoding": {"x": {"field": "n", "type": "ordinal"}, "y": {"datum": 87, "type": "quantitative", "scale": {"domain": [0, 100], "range": [135, 35], "nice": false}}, "text": {"value": "T3.4"}}}
    ]}
   ]},
  {"width": 349, "height": 156,
   "resolve": {"scale": {"x": "independent", "y": "independent"}, "axis": {"x": "independent", "y": "independent"}},
   "layer": [
    {"data": {"name": "C"}, "transform": [{"filter": "datum.pep === 'T6' && datum.iso === '3H'"}],
     "mark": {"type": "bar", "fill": "white", "stroke": "black", "strokeWidth": 1.5},
     "encoding": {
      "x": {"field": "n", "type": "ordinal", "scale": {"range": [70, 147], "paddingInner": 0, "paddingOuter": 0}, "axis": {"orient": "bottom", "offset": -21, "values": [4, 8], "domain": false, "ticks": false, "labelAngle": 0, "labelFontSize": 9, "labelFontWeight": "bold", "labelPadding": 2, "title": null}},
      "y": {"field": "cpm", "type": "quantitative", "scale": {"domain": [0, 100], "range": [135, 35], "nice": false}, "axis": {"orient": "left", "offset": -61, "values": [50, 100], "tickSize": 4, "labelFontSize": 9, "labelPadding": 1, "title": null}}}},
    {"layer": [
     {"data": {"name": "C"}, "transform": [{"filter": "datum.pep === 'T6' && datum.iso === '14C'"}],
      "mark": {"type": "bar", "fill": "white", "stroke": "black", "strokeWidth": 1.5},
      "encoding": {
       "x": {"field": "n", "type": "ordinal", "scale": {"range": [178, 252], "paddingInner": 0, "paddingOuter": 0}, "axis": {"orient": "bottom", "offset": -21, "values": [4, 8], "domain": false, "ticks": false, "labelAngle": 0, "labelFontSize": 9, "labelFontWeight": "bold", "labelPadding": 2, "title": null}},
       "y": {"field": "cpm", "type": "quantitative", "scale": {"domain": [0, 100], "range": [135, 35], "nice": false}, "axis": {"orient": "left", "offset": -175, "values": [50, 100], "tickSize": 4, "labelFontSize": 9, "labelPadding": 1, "title": null}}}},
     {"data": {"name": "C"}, "transform": [{"filter": "datum.pep === 'T6' && datum.iso === '14C' && datum.n === 7"}],
      "mark": {"type": "text", "fontSize": 18, "font": "Liberation Sans"},
      "encoding": {"x": {"field": "n", "type": "ordinal"}, "y": {"datum": 87, "type": "quantitative", "scale": {"domain": [0, 100], "range": [135, 35], "nice": false}}, "text": {"value": "T6"}}}
    ]}
   ]},
  {"width": 350, "height": 151,
   "resolve": {"scale": {"x": "independent", "y": "independent"}, "axis": {"x": "independent", "y": "independent"}},
   "layer": [
    {"data": {"name": "C"}, "transform": [{"filter": "datum.pep === 'T8' && datum.iso === '3H'"}],
     "mark": {"type": "bar", "fill": "white", "stroke": "black", "strokeWidth": 1.5},
     "encoding": {
      "x": {"field": "n", "type": "ordinal", "scale": {"range": [62, 138], "paddingInner": 0, "paddingOuter": 0}, "axis": {"orient": "bottom", "offset": -19, "values": [4, 8], "domain": false, "ticks": false, "labelAngle": 0, "labelFontSize": 9, "labelFontWeight": "bold", "labelPadding": 2, "title": null}},
      "y": {"field": "cpm", "type": "quantitative", "scale": {"domain": [0, 200], "range": [132, 33], "nice": false}, "axis": {"orient": "left", "offset": -53, "values": [100, 200], "tickSize": 4, "labelFontSize": 9, "labelPadding": 1, "title": null}}}},
    {"layer": [
     {"data": {"name": "C"}, "transform": [{"filter": "datum.pep === 'T8' && datum.iso === '14C'"}],
      "mark": {"type": "bar", "fill": "white", "stroke": "black", "strokeWidth": 1.5},
      "encoding": {
       "x": {"field": "n", "type": "ordinal", "scale": {"range": [195, 272], "paddingInner": 0, "paddingOuter": 0}, "axis": {"orient": "bottom", "offset": -19, "values": [4, 8], "domain": false, "ticks": false, "labelAngle": 0, "labelFontSize": 9, "labelFontWeight": "bold", "labelPadding": 2, "title": null}},
       "y": {"field": "cpm", "type": "quantitative", "scale": {"domain": [0, 200], "range": [132, 33], "nice": false}, "axis": {"orient": "left", "offset": -186, "values": [100, 200], "tickSize": 4, "labelFontSize": 9, "labelPadding": 1, "title": null}}}},
     {"data": {"name": "C"}, "transform": [{"filter": "datum.pep === 'T8' && datum.iso === '14C' && datum.n === 7"}],
      "mark": {"type": "text", "fontSize": 18, "font": "Liberation Sans"},
      "encoding": {"x": {"field": "n", "type": "ordinal"}, "y": {"datum": 176, "type": "quantitative", "scale": {"domain": [0, 200], "range": [132, 33], "nice": false}}, "text": {"value": "T8"}}}
    ]},
    {"data": {"values": [{}]},
     "mark": {"type": "rule", "color": "black", "strokeWidth": 3},
     "encoding": {
      "x": {"datum": 0, "type": "quantitative", "scale": {"domain": [0, 1], "range": [-235, 0]}, "axis": null},
      "x2": {"datum": 1},
      "y": {"datum": 0, "type": "quantitative", "scale": {"domain": [0, 1], "range": [0, 1]}, "axis": null}}}
   ]}
 ]
}
]
}
